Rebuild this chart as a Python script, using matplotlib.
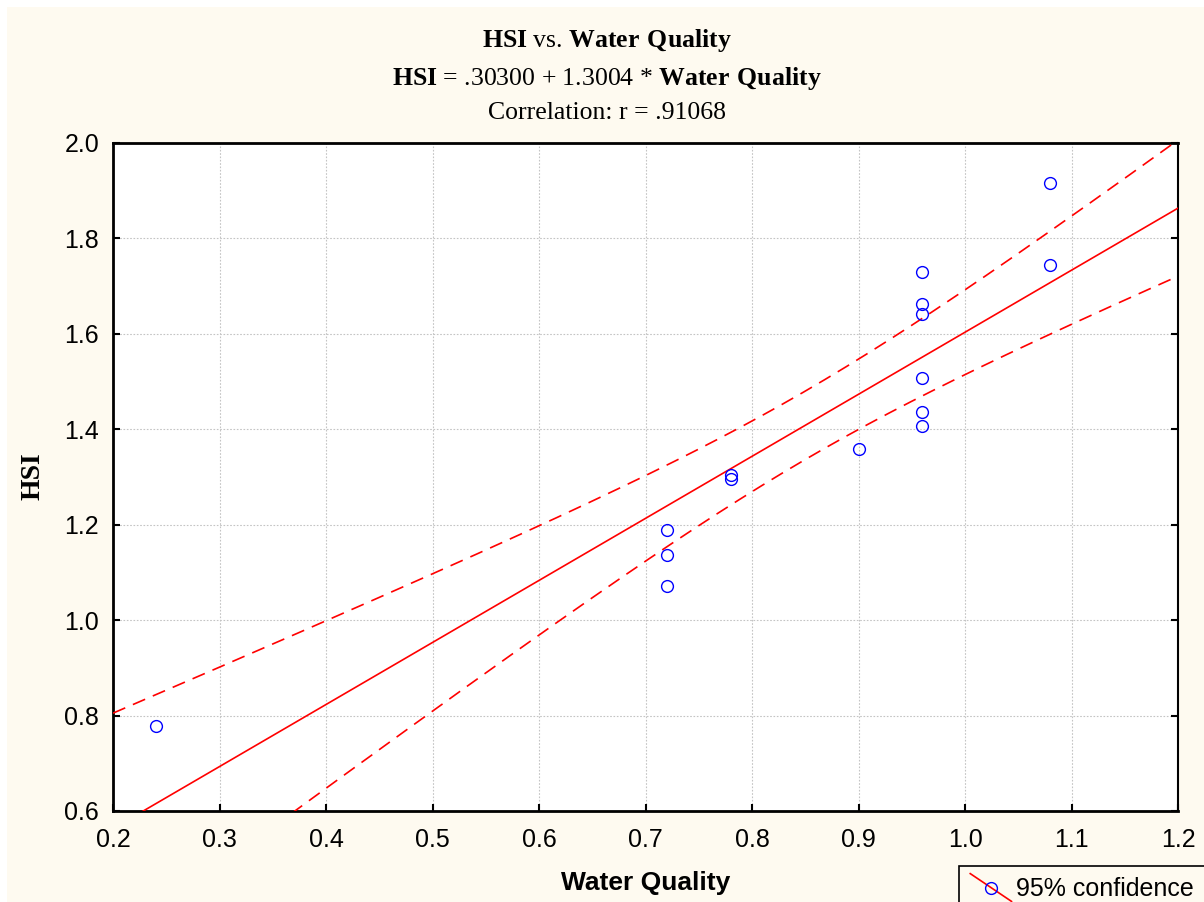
import numpy as np
import matplotlib
matplotlib.use('agg')
import matplotlib.pyplot as plt
from matplotlib.lines import Line2D
from matplotlib.patches import Rectangle
from matplotlib.legend_handler import HandlerBase

# data
water_quality = [0.24, 0.72, 0.72, 0.72, 0.78, 0.78, 0.90,
                 0.96, 0.96, 0.96, 0.96, 0.96, 0.96, 1.08, 1.08]
hsi = [0.778, 1.189, 1.137, 1.072, 1.304, 1.296, 1.359,
       1.730, 1.663, 1.642, 1.508, 1.436, 1.407, 1.916, 1.745]
intercept = 0.30300
slope = 1.3004
t_crit = 2.160  # t(0.975, df=13)

x_ticks = [0.2, 0.3, 0.4, 0.5, 0.6, 0.7, 0.8, 0.9, 1.0, 1.1, 1.2]
y_ticks = [0.6, 0.8, 1.0, 1.2, 1.4, 1.6, 1.8, 2.0]

plt.rcParams['mathtext.fontset'] = 'custom'
plt.rcParams['mathtext.rm'] = 'Liberation Serif'
plt.rcParams['mathtext.bf'] = 'Liberation Serif:bold'

cream = '#fefaf0'
W, H = 1204, 902
fig = plt.figure(figsize=(W / 100, H / 100), dpi=100, facecolor='white')
fig.patches.append(Rectangle((7 / W, 0), 1, 1 - 7 / H, transform=fig.transFigure,
                             facecolor=cream, edgecolor='none', zorder=-10))

ax = fig.add_axes([113 / W, (H - 811) / H, 1065 / W, 668 / H])
ax.set_facecolor('white')

x = np.array(water_quality)
y = np.array(hsi)
n = len(x)
resid = y - (intercept + slope * x)
s = np.sqrt(np.sum(resid ** 2) / (n - 2))
sxx = np.sum((x - x.mean()) ** 2)

xs = np.linspace(0.2, 1.2, 200)
fit = intercept + slope * xs
half = t_crit * s * np.sqrt(1 / n + (xs - x.mean()) ** 2 / sxx)

ax.plot(xs, fit, color='red', lw=1.2, zorder=3)
ax.plot(xs, fit + half, color='red', lw=1.2, ls=(0, (8, 5)), zorder=3)
ax.plot(xs, fit - half, color='red', lw=1.2, ls=(0, (8, 5)), zorder=3)
ax.plot(x, y, ls='none', marker='o', ms=8.5, mfc='none', mec='blue', mew=1.0, zorder=4)

ax.set_xlim(0.2, 1.2)
ax.set_ylim(0.6, 2.0)
ax.set_xticks(x_ticks)
ax.set_yticks(y_ticks)
ax.set_xticklabels(['%.1f' % v for v in x_ticks])
ax.set_yticklabels(['%.1f' % v for v in y_ticks])
ax.grid(True, color='#c4c4c4', ls=(0, (1.5, 1.5)), lw=0.8)
ax.set_axisbelow(True)
ax.tick_params(direction='in', length=5, width=1.5, labelsize=18, right=True)
ax.tick_params(axis='x', pad=12)
ax.tick_params(axis='y', pad=10)
for lab in ax.get_xticklabels() + ax.get_yticklabels():
    lab.set_fontfamily('Liberation Sans')
for side in ['left', 'bottom', 'top']:
    ax.spines[side].set_linewidth(2)
ax.spines['right'].set_linewidth(1.5)

fig.text(646 / W, 1 - 883 / H, 'Water Quality', fontfamily='Liberation Sans',
         fontweight='bold', fontsize=19, ha='center', va='center')
fig.text(33 / W, 1 - 476 / H, 'HSI', fontfamily='Liberation Serif', fontweight='bold',
         fontsize=20, rotation=90, ha='center', va='center')

tx = 607 / W
fig.text(tx, 1 - 41 / H, r'$\mathbf{HSI}$ vs. $\mathbf{Water\ Quality}$',
         fontfamily='Liberation Serif', fontsize=18.5, ha='center', va='center')
fig.text(tx, 1 - 78 / H, r'$\mathbf{HSI}$ = .30300 + 1.3004 * $\mathbf{Water\ Quality}$',
         fontfamily='Liberation Serif', fontsize=18.5, ha='center', va='center')
fig.text(tx, 1 - 113 / H, 'Correlation: r = .91068',
         fontfamily='Liberation Serif', fontsize=18.5, ha='center', va='center')


class DiagHandler(HandlerBase):
    def create_artists(self, legend, orig, xd, yd, w, h, fontsize, trans):
        x0, y0 = -xd, -yd
        ln = Line2D([x0, x0 + w], [y0 + h / 2 + 10, y0 + h / 2 - 10], color='red', lw=1.2)
        mk = Line2D([x0 + w / 2], [y0 + h / 2], ls='none', marker='o', ms=8.5,
                    mfc='none', mec='blue', mew=1.0)
        ln.set_transform(trans)
        mk.set_transform(trans)
        return [ln, mk]


handle = Line2D([], [])
leg = fig.legend([handle], ['95% confidence'], handler_map={Line2D: DiagHandler()},
                 loc='upper left', bbox_to_anchor=(959 / W, 1 - 866 / H),
                 bbox_transform=fig.transFigure, borderaxespad=0, borderpad=0.45,
                 handlelength=1.65, handletextpad=0.2, fancybox=False,
                 prop={'family': 'Liberation Sans', 'size': 18})
leg.get_frame().set_edgecolor('black')
leg.get_frame().set_linewidth(1.2)
leg.get_frame().set_facecolor(cream)
leg.get_frame().set_alpha(1)

fig.savefig('out.png', dpi=100, facecolor=fig.get_facecolor())
